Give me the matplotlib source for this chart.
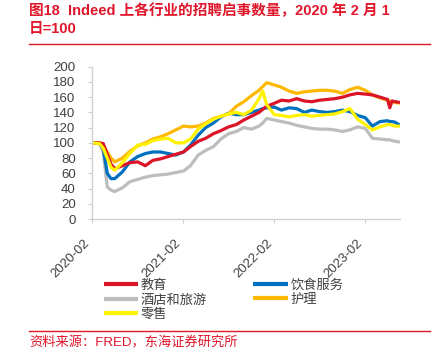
import matplotlib
matplotlib.use("Agg")
import matplotlib.pyplot as plt
import matplotlib.dates as mdates
from matplotlib.lines import Line2D
import pandas as pd

plt.rcParams['font.family'] = ['Liberation Sans', 'Noto Sans CJK SC', 'DejaVu Sans']

# ---------------- data ----------------
dates = ["2020-02-01", "2020-03-01", "2020-03-16", "2020-04-01", "2020-04-16", "2020-05-01",
         "2020-06-01", "2020-07-01", "2020-08-01", "2020-09-01", "2020-10-01", "2020-11-01",
         "2020-12-01", "2021-01-01", "2021-02-01", "2021-03-01", "2021-04-01", "2021-05-01",
         "2021-06-01", "2021-07-01", "2021-08-01", "2021-09-01", "2021-10-01", "2021-11-01",
         "2021-12-01", "2021-12-16", "2022-01-01", "2022-02-01", "2022-03-01", "2022-04-01",
         "2022-05-01", "2022-06-01", "2022-07-01", "2022-08-01", "2022-09-01", "2022-10-01",
         "2022-11-01", "2022-12-01", "2023-01-01", "2023-02-01", "2023-03-01", "2023-04-01",
         "2023-05-01", "2023-05-10", "2023-05-19", "2023-06-01", "2023-06-20"]

education = [100, 100, 99, 85, 72, 66, 70, 74, 75, 70, 77, 79, 82, 85, 88, 95, 102, 106,
             112, 116, 121, 124, 130, 135, 140, 144, 148, 152, 156, 155, 158, 155, 154, 156,
             157, 158, 160, 163, 165, 164, 163, 160, 157, 146, 155, 154, 153]
food_service = [100, 99, 92, 60, 53, 53, 62, 75, 82, 86, 88, 88, 86, 84, 88, 97, 110, 120,
                126, 134, 139, 137, 137, 140, 143, 145, 146, 147, 143, 146, 145, 140, 143, 141,
                140, 141, 143, 141, 136, 133, 122, 128, 129, 128, 128, 127, 123]
hospitality = [100, 99, 88, 42, 38, 36, 41, 49, 52, 55, 57, 58, 59, 61, 63, 70, 84, 90,
               95, 105, 112, 115, 120, 118, 122, 126, 132, 130, 128, 126, 123, 121, 119, 118,
               118, 117, 115, 117, 121, 119, 106, 105, 104, 104, 103, 102, 101]
nursing = [100, 100, 97, 88, 80, 75, 80, 89, 96, 100, 105, 108, 112, 117, 122, 121, 122, 126,
           132, 135, 138, 148, 154, 162, 169, 174, 179, 176, 173, 168, 165, 167, 168, 169,
           169, 168, 165, 170, 173, 169, 163, 159, 156, 155, 154, 153, 152]
retail = [100, 99, 93, 80, 68, 64, 74, 86, 97, 98, 103, 105, 106, 100, 100, 105, 118, 125,
          131, 135, 138, 140, 137, 143, 158, 168, 150, 137, 136, 134, 136, 137, 135, 136,
          137, 138, 141, 145, 131, 124, 117, 121, 124, 124, 123, 122, 122]

series_names = ["教育", "饮食服务", "酒店和旅游", "护理", "零售"]
y_ticks = list(range(0, 201, 20))
x_tick_dates = ["2020-02-01", "2021-02-01", "2022-02-01", "2023-02-01"]

title_text = "图18  Indeed 上各行业的招聘启事数量，2020 年 2 月 1\n日=100"
source_text = "资料来源：FRED，东海证券研究所"

# ---------------- styles ----------------
RED = "#E0162B"
colors = {"教育": "#DC1428", "饮食服务": "#0070C0", "酒店和旅游": "#BDBDBD",
          "护理": "#FFB800", "零售": "#FFF200"}
TXT = "#404040"
AX = "#D0D0D0"

W, H = 437, 356
fig = plt.figure(figsize=(W / 100, H / 100), dpi=100)
ax = fig.add_axes([92.3 / W, 1 - 219 / H, (400 - 92.3) / W, (219 - 66.7) / H])

x = pd.to_datetime(dates)
data = {"教育": education, "饮食服务": food_service, "酒店和旅游": hospitality,
        "护理": nursing, "零售": retail}
handles = {}
for name in ["酒店和旅游", "饮食服务", "护理", "教育", "零售"]:
    (h,) = ax.plot(x, data[name], color=colors[name], lw=2.3, solid_capstyle='butt',
                   label=name)
    handles[name] = h

ax.set_ylim(0, 200)
ax.set_yticks(y_ticks)
ax.set_xlim(x[0], x[-1])
ax.set_xticks(pd.to_datetime(x_tick_dates))
ax.xaxis.set_major_formatter(mdates.DateFormatter("%Y-%m"))

for s in ["top", "right"]:
    ax.spines[s].set_visible(False)
for s in ["left", "bottom"]:
    ax.spines[s].set_color(AX)
    ax.spines[s].set_linewidth(1.0)

ax.tick_params(axis='y', length=3, width=0.8, color=AX, labelsize=9.5, labelcolor=TXT, pad=9)
ax.tick_params(axis='x', length=3, width=0.8, color=AX, labelsize=9.5, labelcolor=TXT, pad=10)
for lab in ax.get_xticklabels():
    lab.set_rotation(45)
    lab.set_ha('right')
    lab.set_va('top')

# legend (column-major: col1 = 教育/酒店和旅游/零售, col2 = 饮食服务/护理)
order = ["教育", "酒店和旅游", "零售", "饮食服务", "护理"]
leg = fig.legend([handles[n] for n in order], order, ncol=2, frameon=False,
                 loc='upper left', bbox_to_anchor=(104 / W, 1 - 279 / H),
                 fontsize=9.5, handlelength=2.6, handletextpad=0.2, columnspacing=3.5,
                 labelspacing=0.15, borderaxespad=0, borderpad=0)
for t in leg.get_texts():
    t.set_color(TXT)
for lh in leg.get_lines():
    lh.set_linewidth(3)

# title and rules
fig.text(29 / W, 1 - 3 / H, title_text, color=RED, fontweight='bold', fontsize=10.5,
         va='top', ha='left', linespacing=1.35)
fig.add_artist(Line2D([29 / W, 430 / W], [1 - 43.5 / H] * 2, color=RED, lw=1.0))
fig.add_artist(Line2D([29 / W, 430 / W], [1 - 331 / H] * 2, color=RED, lw=1.0))
fig.text(29 / W, 1 - 343 / H, source_text, color=RED, fontsize=9.5, va='center', ha='left')

fig.savefig("out.png", dpi=100)
